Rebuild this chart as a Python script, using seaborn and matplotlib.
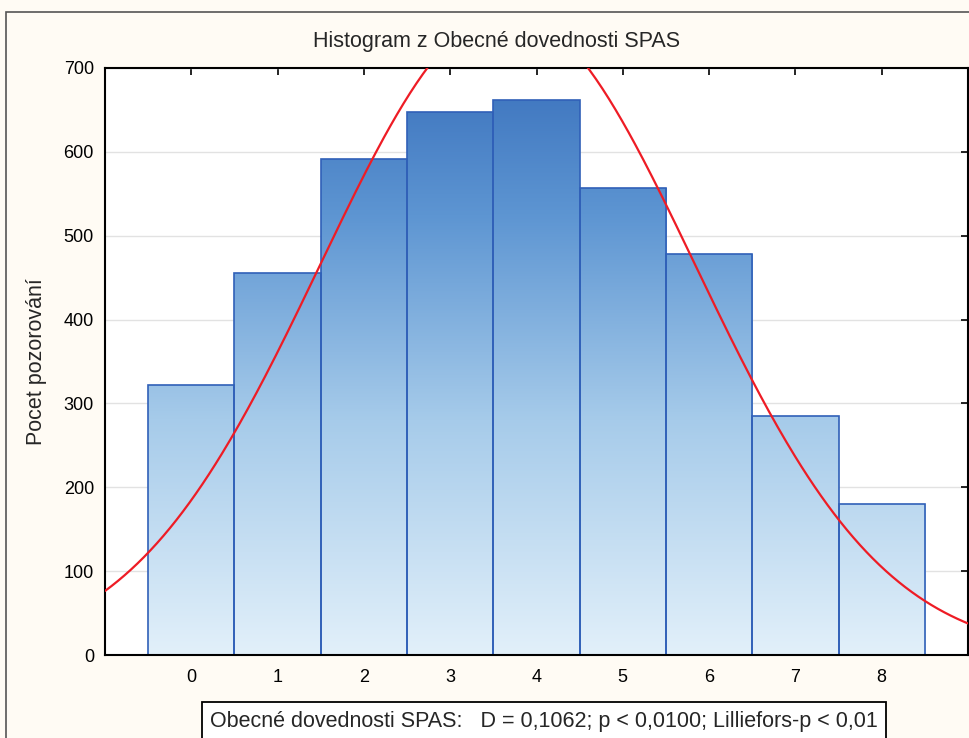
import matplotlib
matplotlib.use("Agg")
import matplotlib.pyplot as plt
import matplotlib.patches as mpatches
from matplotlib.colors import LinearSegmentedColormap
import seaborn as sns
import numpy as np
import pandas as pd

# data
hodnoty = [0, 1, 2, 3, 4, 5, 6, 7, 8]
cetnosti = [322, 455, 592, 647, 662, 557, 478, 285, 180]
nazev = "Histogram z Obecné dovednosti SPAS"
popis_y = "Pocet pozorování"
test_text = "Obecné dovednosti SPAS:   D = 0,1062; p < 0,0100; Lilliefors-p < 0,01"

df = pd.DataFrame({"hodnota": hodnoty, "n": cetnosti})

sns.set_style("white")
plt.rcParams["font.family"] = ["Liberation Sans", "DejaVu Sans"]

fig = plt.figure(figsize=(9.69, 7.38), dpi=100, facecolor="#fffbf4")
ax = fig.add_axes([105 / 969, 1 - 655 / 738, 863 / 969, 587 / 738])
ax.set_facecolor("white")

sns.histplot(data=df, x="hodnota", weights="n", discrete=True, ax=ax,
             color="#5a92d0", edgecolor="#3060b8", linewidth=1.2, alpha=1)

# gradient fill of the bars (dark at top of axis, light at bottom)
cmap = LinearSegmentedColormap.from_list(
    "spas", [(0, "#e2f0fa"), (0.4, "#a6cbea"), (0.75, "#5d95d2"), (1, "#3b72bd")])
grad = np.linspace(0, 1, 256).reshape(-1, 1)
for p in ax.patches:
    p.set_facecolor("none")
    im = ax.imshow(grad, cmap=cmap, origin="lower", aspect="auto",
                   extent=[-1, 9, 0, 700], zorder=p.get_zorder() - 0.1)
    im.set_clip_path(p)
ax.set_xlim(-1, 9)
ax.set_ylim(0, 700)

# fitted normal curve
N = sum(cetnosti)
mu = np.dot(hodnoty, cetnosti) / N
sd = np.sqrt(np.dot(np.square(np.array(hodnoty) - mu), cetnosti) / N)
xs = np.linspace(-1, 9, 400)
ys = N / (sd * np.sqrt(2 * np.pi)) * np.exp(-0.5 * ((xs - mu) / sd) ** 2)
sns.lineplot(x=xs, y=ys, color="#ee1c25", linewidth=1.6, ax=ax, zorder=5)

ax.set_xticks(hodnoty)
ax.set_yticks(range(0, 701, 100))
ax.yaxis.grid(True, color="#e2e2e2", linewidth=1)
ax.set_axisbelow(True)
ax.tick_params(direction="in", top=True, right=True, length=5, width=1.2,
               labelsize=13, colors="black")
ax.tick_params(axis="x", pad=10)
ax.tick_params(axis="y", pad=8)
for s in ax.spines.values():
    s.set_color("black")
    s.set_linewidth(1.5)
ax.set_xlabel("")
ax.set_ylabel(popis_y, fontsize=15.5, labelpad=12)

fig.text(497 / 969, 1 - 41 / 738, nazev, ha="center", va="center", fontsize=15.5)
fig.text(544 / 969, 1 - 721 / 738, test_text, ha="center", va="center", fontsize=15.5,
         bbox=dict(boxstyle="square,pad=0.4", facecolor="white", edgecolor="black", linewidth=1.3))

# outer frame of the graph window
fig.patches.append(mpatches.Rectangle((6 / 969, -0.1), 1.2, 1 - 12 / 738 + 0.1,
                                      transform=fig.transFigure, fill=False,
                                      edgecolor="#555555", linewidth=1.2))

fig.savefig("out.png", dpi=100, facecolor=fig.get_facecolor())
